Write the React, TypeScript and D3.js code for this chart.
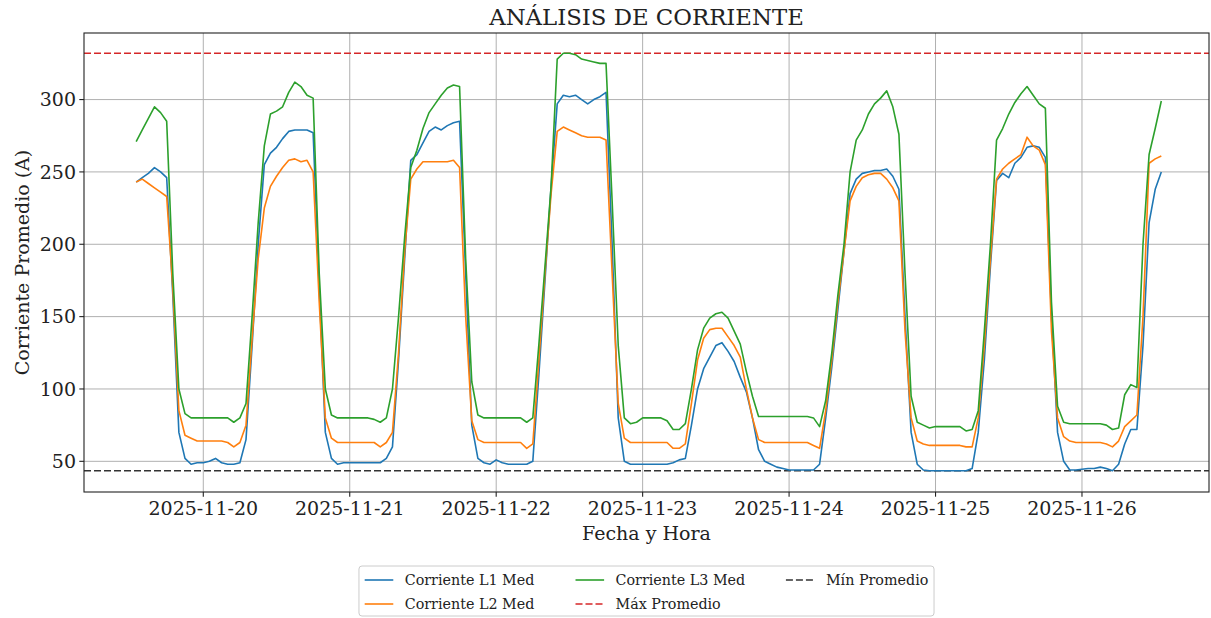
import React from "react";
import * as d3 from "d3";

// ---------------- DATA ----------------
// Hourly readings starting 2025-11-19 13:00
const START_TIME = "2025-11-19T13:00:00Z";

const corrienteL1 = [
  243, 246, 249, 253, 250, 246, 165, 70, 52, 48, 49,
  49, 50, 52, 49, 48, 48, 49, 65, 130, 200, 255, 263, 267, 273, 278, 279, 279, 279, 277, 170, 70, 52, 48, 49,
  49, 49, 49, 49, 49, 49, 52, 60, 120, 190, 258, 262, 270, 278, 281, 279, 282, 284, 285, 180, 75, 52, 49, 48,
  51, 49, 48, 48, 48, 48, 50, 110, 175, 240, 297, 303, 302, 303, 300, 297, 300, 302, 305, 200, 80, 50, 48, 48,
  48, 48, 48, 48, 48, 49, 51, 52, 75, 100, 114, 122, 130, 132, 126, 119, 108, 98, 80, 58, 50, 48, 46, 45,
  44, 44, 44, 44, 44, 48, 80, 115, 155, 195, 235, 245, 249, 250, 251, 251, 252, 247, 238, 150, 70, 48, 44, 43.5,
  43.5, 43.5, 43.5, 43.5, 43.5, 43.5, 45, 70, 120, 185, 244, 249, 246, 256, 260, 267, 268, 267, 260, 150, 70, 50, 44, 44,
  44.5, 45, 45, 46, 45, 43.5, 48, 62, 72, 72, 130, 215, 238, 250,
];

const corrienteL2 = [
  243, 245, 242, 239, 236, 233, 170, 85, 68, 66, 64,
  64, 64, 64, 64, 63, 60, 63, 75, 135, 190, 225, 240, 247, 253, 258, 259, 257, 258, 250, 160, 80, 66, 63, 63,
  63, 63, 63, 63, 63, 60, 63, 70, 125, 195, 245, 252, 257, 257, 257, 257, 257, 258, 253, 150, 78, 65, 63, 63,
  63, 63, 63, 63, 63, 59, 62, 120, 180, 235, 278, 281, 279, 277, 275, 274, 274, 274, 272, 180, 90, 66, 63, 63,
  63, 63, 63, 63, 63, 59, 59, 62, 90, 120, 135, 141, 142, 142, 136, 130, 122, 100, 80, 65, 63, 63, 63, 63,
  63, 63, 63, 63, 61, 59, 85, 120, 160, 195, 230, 240, 246, 248, 249, 249, 245, 239, 230, 140, 80, 64, 62, 61,
  61, 61, 61, 61, 61, 60, 60, 80, 130, 190, 245, 252, 256, 259, 262, 274, 268, 265, 255, 140, 80, 67, 64, 63,
  63, 63, 63, 63, 62, 60, 64, 74, 78, 82, 150, 256, 259, 261,
];

const corrienteL3 = [
  271, 279, 287, 295, 291, 285, 180, 100, 83, 80, 80,
  80, 80, 80, 80, 80, 77, 80, 90, 150, 215, 268, 290, 292, 295, 305, 312, 309, 303, 301, 180, 100, 82, 80, 80,
  80, 80, 80, 80, 79, 77, 80, 100, 150, 205, 253, 265, 280, 291, 297, 303, 308, 310, 309, 190, 105, 82, 80, 80,
  80, 80, 80, 80, 80, 77, 80, 131, 185, 240, 328, 332, 332, 331, 328, 327, 326, 325, 325, 230, 130, 80, 76, 77,
  80, 80, 80, 80, 78, 72, 72, 76, 100, 127, 142, 149, 152, 153, 149, 140, 131, 112, 95, 81, 81, 81, 81, 81,
  81, 81, 81, 81, 80, 74, 92, 125, 165, 200, 250, 272, 279, 290, 297, 301, 306, 295, 276, 180, 95, 77, 75, 73,
  74, 74, 74, 74, 74, 71, 72, 85, 140, 200, 272, 280, 290, 298, 304, 309, 303, 297, 294, 160, 88, 77, 76, 76,
  76, 76, 76, 76, 75, 72, 73, 96, 103, 101, 200, 262, 280, 299,
];

const maxPromedio = 332;
const minPromedio = 43.5;

const yTicks = [50, 100, 150, 200, 250, 300];
const xTickLabels = [
  "2025-11-20",
  "2025-11-21",
  "2025-11-22",
  "2025-11-23",
  "2025-11-24",
  "2025-11-25",
  "2025-11-26",
];
const xDomainLabels = ["2025-11-19T04:27:00Z", "2025-11-26T20:49:00Z"];
const yDomain = [28.8, 346];

const seriesNames = ["Corriente L1 Med", "Corriente L2 Med", "Corriente L3 Med"];
const refNames = ["Máx Promedio", "Mín Promedio"];

// ---------------- STYLE / LAYOUT ----------------
const W = 1211;
const H = 618;
const M = { left: 84, right: 1209, top: 33, bottom: 492 };
const COLORS = ["#1f77b4", "#ff7f0e", "#2ca02c"];
const MAX_COLOR = "#d62728";
const MIN_COLOR = "#333333";
const FONT = "'DejaVu Serif', serif";

export default function App() {
  const startMs = Date.parse(START_TIME);
  const times = corrienteL1.map((_, i) => new Date(startMs + i * 3600 * 1000));
  const x = d3
    .scaleUtc()
    .domain(xDomainLabels.map((s) => new Date(s)))
    .range([M.left, M.right]);
  const y = d3.scaleLinear().domain(yDomain).range([M.bottom, M.top]);

  const series = [corrienteL1, corrienteL2, corrienteL3];
  const line = d3
    .line<number>()
    .x((_, i) => x(times[i]))
    .y((d) => y(d));

  const xTicks = xTickLabels.map((s) => new Date(s + "T00:00:00Z"));
  const fmt = d3.utcFormat("%Y-%m-%d");

  const cx = (M.left + M.right) / 2;

  // legend layout (font 14.3px)
  const fs = 14.3;
  const k = fs / 14;
  const legW = 563 * k;
  const legL = cx - legW / 2;
  const legT = 566;
  const legH = 50;
  const row = [580, 604];
  const colHandle = [legL + 5.6 * k, legL + 212 * k, legL + 418 * k];
  const hl = 28 * k;
  const tp = 11.2 * k;
  const legendItems = [
    { label: seriesNames[0], color: COLORS[0], dash: null, col: 0, r: 0 },
    { label: seriesNames[1], color: COLORS[1], dash: null, col: 0, r: 1 },
    { label: seriesNames[2], color: COLORS[2], dash: null, col: 1, r: 0 },
    { label: refNames[0], color: MAX_COLOR, dash: "7,3", col: 1, r: 1 },
    { label: refNames[1], color: MIN_COLOR, dash: "7,3", col: 2, r: 0 },
  ];

  return (
    <svg
      width={W}
      height={H}
      style={{ position: "absolute", left: 0, top: 0, background: "#fff" }}
      fontFamily={FONT}
    >
      <rect x={0} y={0} width={W} height={H} fill="#fff" />
      {/* grid */}
      <g stroke="#b0b0b0" strokeWidth={1}>
        {yTicks.map((t) => (
          <line key={"gy" + t} x1={M.left} x2={M.right} y1={y(t)} y2={y(t)} />
        ))}
        {xTicks.map((t, i) => (
          <line key={"gx" + i} x1={x(t)} x2={x(t)} y1={M.top} y2={M.bottom} />
        ))}
      </g>

      {/* reference lines */}
      <line
        x1={M.left}
        x2={M.right}
        y1={y(maxPromedio)}
        y2={y(maxPromedio)}
        stroke={MAX_COLOR}
        strokeWidth={1.5}
        strokeDasharray="7,3"
      />
      <line
        x1={M.left}
        x2={M.right}
        y1={y(minPromedio)}
        y2={y(minPromedio)}
        stroke={MIN_COLOR}
        strokeWidth={1.5}
        strokeDasharray="7,3"
      />

      {/* series */}
      {series.map((s, i) => (
        <path
          key={"s" + i}
          d={line(s) || ""}
          fill="none"
          stroke={COLORS[i]}
          strokeWidth={1.6}
          strokeLinejoin="round"
        />
      ))}

      {/* axes frame */}
      <rect
        x={M.left}
        y={M.top}
        width={M.right - M.left}
        height={M.bottom - M.top}
        fill="none"
        stroke="#222"
        strokeWidth={1.1}
      />

      {/* y ticks */}
      {yTicks.map((t) => (
        <g key={"yt" + t}>
          <line x1={M.left - 4.7} x2={M.left} y1={y(t)} y2={y(t)} stroke="#222" strokeWidth={1.1} />
          <text
            x={M.left - 8}
            y={y(t)}
            dy="0.36em"
            textAnchor="end"
            fontSize={19}
            fill="#222"
          >
            {t}
          </text>
        </g>
      ))}

      {/* x ticks */}
      {xTicks.map((t, i) => (
        <g key={"xt" + i}>
          <line x1={x(t)} x2={x(t)} y1={M.bottom} y2={M.bottom + 4.7} stroke="#222" strokeWidth={1.1} />
          <text x={x(t)} y={515} textAnchor="middle" fontSize={19} fill="#222">
            {fmt(t)}
          </text>
        </g>
      ))}

      {/* labels */}
      <text x={cx} y={25} textAnchor="middle" fontSize={22.8} fill="#222">
        ANÁLISIS DE CORRIENTE
      </text>
      <text x={cx} y={540} textAnchor="middle" fontSize={19} fill="#222">
        Fecha y Hora
      </text>
      <text
        transform={`translate(29, ${(M.top + M.bottom) / 2}) rotate(-90)`}
        textAnchor="middle"
        fontSize={19}
        fill="#222"
      >
        Corriente Promedio (A)
      </text>

      {/* legend */}
      <rect
        x={legL}
        y={legT}
        width={legW}
        height={legH}
        rx={3}
        fill="#fff"
        fillOpacity={0.8}
        stroke="#cccccc"
        strokeWidth={1}
      />
      {legendItems.map((it, i) => (
        <g key={"lg" + i}>
          <line
            x1={colHandle[it.col]}
            x2={colHandle[it.col] + hl}
            y1={row[it.r]}
            y2={row[it.r]}
            stroke={it.color}
            strokeWidth={1.6}
            strokeDasharray={it.dash || undefined}
          />
          <text
            x={colHandle[it.col] + hl + tp}
            y={row[it.r]}
            dy="0.35em"
            fontSize={fs}
            fill="#222"
          >
            {it.label}
          </text>
        </g>
      ))}
    </svg>
  );
}
